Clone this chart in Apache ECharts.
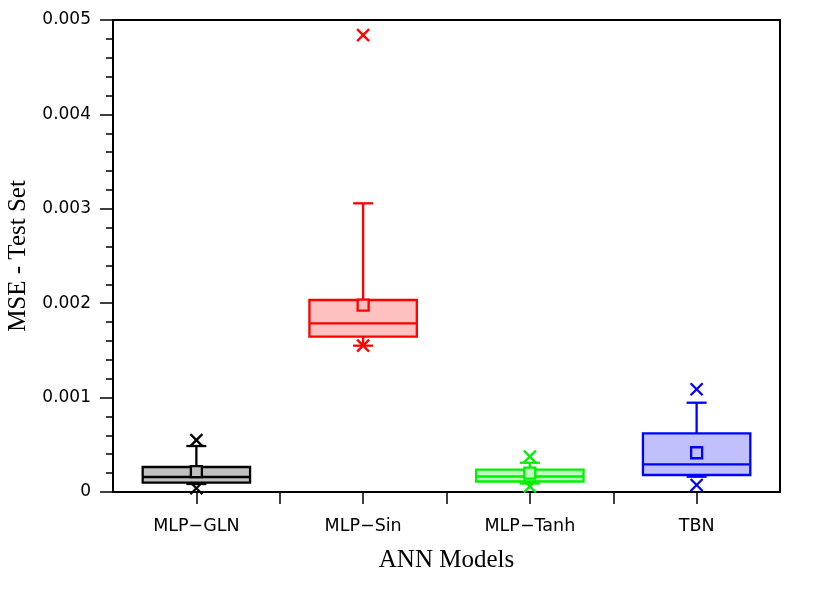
<!DOCTYPE html>
<html>
<head>
<meta charset="utf-8">
<script src="https://cdn.jsdelivr.net/npm/echarts@6/dist/echarts.min.js"></script>
<style>html,body{margin:0;padding:0;background:#fff;}#c{width:830px;height:590px;}</style>
</head>
<body>
<div id="c"></div>
<script>
const categories = ['MLP\u2212GLN', 'MLP\u2212Sin', 'MLP\u2212Tanh', 'TBN'];
const whiskerLow  = [0.000085, 0.00155, 0.00009, 0.000162];
const q1          = [0.0001, 0.001645, 0.000111, 0.00018];
const median      = [0.000159, 0.001787, 0.000164, 0.000293];
const q3          = [0.000265, 0.002034, 0.000238, 0.000622];
const whiskerHigh = [0.000487, 0.003058, 0.00031, 0.000946];
const means       = [0.000215, 0.00198, 0.0002, 0.000416];
const lowMarker   = [0.00004, 0.00155, 0.00006, 0.000074];
const highMarker  = [0.00055, 0.00484, 0.000375, 0.001088];
const yTicks = { min: 0, max: 0.005, step: 0.001 };

const strokeColors = ['#000000', '#ff0000', '#00f000', '#0000ff'];
const fillColors   = ['#c0c0c0', '#ffc0c0', '#c0ffc0', '#c0c0ff'];

const boxData = categories.map((c, i) => [i, whiskerLow[i], q1[i], median[i], q3[i], whiskerHigh[i], means[i], lowMarker[i], highMarker[i]]);

function renderItem(params, api) {
  const i = api.value(0);
  const idx = params.dataIndex;
  const col = strokeColors[idx], fill = fillColors[idx];
  const band = api.size([1, 0])[0];
  const hw = band * 0.322, capHw = band * 0.06, mk = 6, sq = 5.5;
  const cx = api.coord([i, 0])[0];
  const y = v => api.coord([i, v])[1];
  const lw = 2.3;
  const st = { stroke: col, lineWidth: lw, fill: null };
  const line = (x1, y1, x2, y2) => ({ type: 'line', shape: { x1, y1, x2, y2 }, style: st });
  const yl = y(api.value(1)), yq1 = y(api.value(2)), ym = y(api.value(3)), yq3 = y(api.value(4)), yh = y(api.value(5));
  const ymean = y(api.value(6)), ylm = y(api.value(7)), yhm = y(api.value(8));
  const xMark = (yy) => [line(cx - mk, yy - mk, cx + mk, yy + mk), line(cx - mk, yy + mk, cx + mk, yy - mk)];
  const children = [
    line(cx, yq3, cx, yh),
    line(cx, yq1, cx, yl),
    line(cx - capHw, yh, cx + capHw, yh),
    line(cx - capHw, yl, cx + capHw, yl),
    { type: 'rect', shape: { x: cx - hw, y: yq3, width: 2 * hw, height: yq1 - yq3 }, style: { fill: fill, stroke: col, lineWidth: lw } },
    line(cx - hw, ym, cx + hw, ym),
    { type: 'rect', shape: { x: cx - sq, y: ymean - sq, width: 2 * sq, height: 2 * sq }, style: { fill: fill, stroke: col, lineWidth: lw } }
  ].concat(xMark(ylm), xMark(yhm));
  return { type: 'group', children };
}

const chart = echarts.init(document.getElementById('c'), null, { renderer: 'canvas' });
chart.setOption({
  animation: false,
  backgroundColor: '#fff',
  grid: { left: 113, right: 50, top: 20, bottom: 98, show: true, borderColor: '#000', borderWidth: 2, backgroundColor: 'transparent', outerBoundsMode: 'none', containLabel: false },
  xAxis: [{
    type: 'category',
    data: categories,
    name: 'ANN Models',
    nameLocation: 'middle',
    nameGap: 56,
    nameTextStyle: { fontFamily: 'Liberation Serif', fontSize: 25, color: '#000' },
    axisLine: { show: true, lineStyle: { color: '#000', width: 2 } },
    axisTick: { show: false },
    axisLabel: { fontFamily: 'DejaVu Sans', fontSize: 17.5, color: '#000', margin: 25 },
    splitLine: { show: false }
  }, {
    type: 'value',
    position: 'bottom',
    min: 0, max: 4,
    axisLine: { show: false },
    axisLabel: { show: false },
    splitLine: { show: false },
    axisTick: { show: true, length: 12, lineStyle: { color: '#000', width: 1.5 }, customValues: [0.5, 1, 1.5, 2, 2.5, 3, 3.5] }
  }],
  yAxis: {
    type: 'value',
    min: yTicks.min, max: yTicks.max, interval: yTicks.step,
    name: 'MSE - Test Set',
    nameLocation: 'middle',
    nameGap: 82,
    nameTextStyle: { fontFamily: 'Liberation Serif', fontSize: 25, color: '#000' },
    axisLine: { show: true, lineStyle: { color: '#000', width: 2 } },
    axisTick: { show: true, length: 13, lineStyle: { color: '#000', width: 1.5 } },
    minorTick: { show: true, splitNumber: 5, length: 7, lineStyle: { color: '#000', width: 1.5 } },
    axisLabel: { fontFamily: 'DejaVu Sans', fontSize: 17, color: '#000', margin: 22, formatter: v => v === 0 ? '0' : v.toFixed(3) },
    splitLine: { show: false }
  },
  series: [{
    type: 'custom',
    xAxisIndex: 0,
    renderItem: renderItem,
    clip: false,
    encode: { x: 0, y: [1, 2, 3, 4, 5, 6, 7, 8] },
    data: boxData
  }]
});
</script>
</body>
</html>
